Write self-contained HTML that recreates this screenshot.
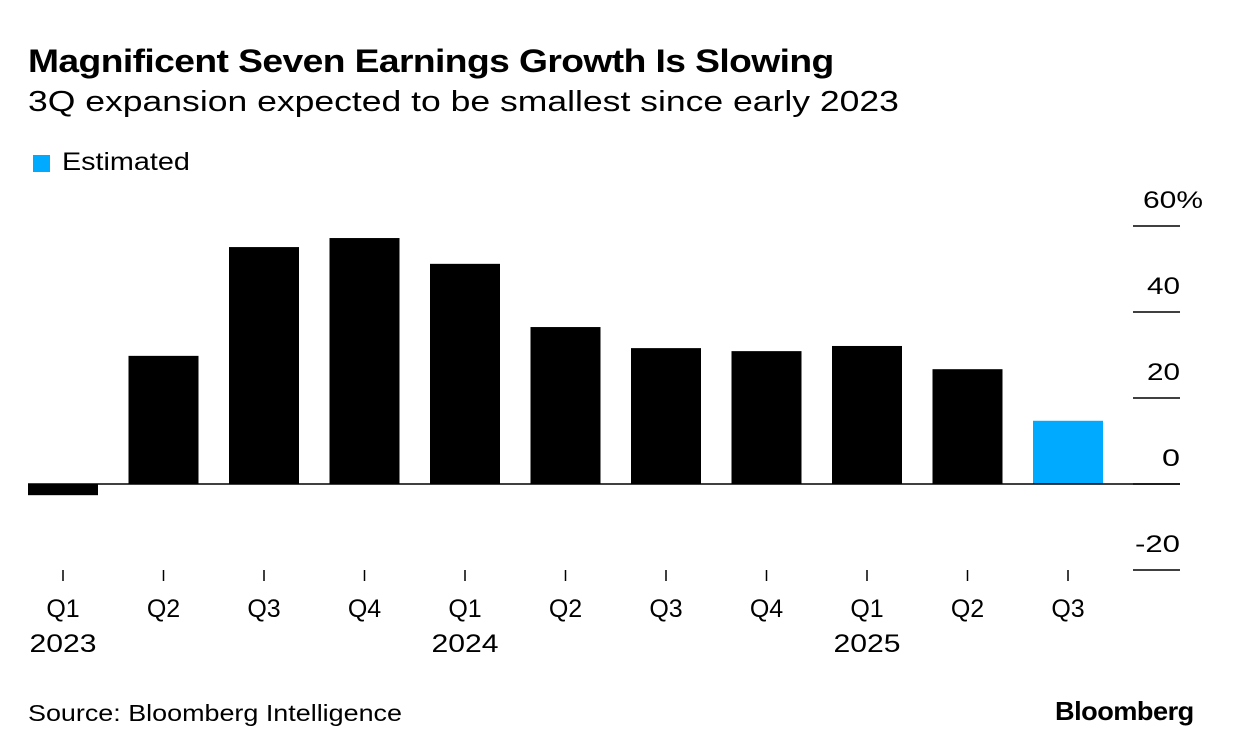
<!DOCTYPE html>
<html><head><meta charset="utf-8"><style>
body{margin:0;background:#fff;font-family:"Liberation Sans",sans-serif;color:#000}
#wrap{position:relative;width:1233px;height:754px;overflow:hidden}
.t{position:absolute;white-space:nowrap;transform-origin:0 0}
</style></head><body>
<div id="wrap">
<div class="t" style="left:28px;top:43px;font-size:32px;font-weight:bold;letter-spacing:-0.5px;transform:scaleX(1.163)">Magnificent Seven Earnings Growth Is Slowing</div>
<div class="t" style="left:28px;top:86px;font-size:29px;transform:scaleX(1.225)">3Q expansion expected to be smallest since early 2023</div>
<div style="position:absolute;left:33px;top:155px;width:17px;height:17px;background:#00aaff"></div>
<div class="t" style="left:62px;top:148px;font-size:25px;transform:scaleX(1.15)">Estimated</div>
<svg id="chart" width="1233" height="754" style="position:absolute;left:0;top:0"></svg>
<div class="t" style="left:28px;top:700px;font-size:23px;transform:scaleX(1.17)">Source: Bloomberg Intelligence</div>
<div class="t" style="left:1055px;top:696px;font-size:26px;font-weight:bold;letter-spacing:-0.5px;transform:scaleX(1.045)">Bloomberg</div>
</div>
<script>
const categories=["Q1","Q2","Q3","Q4","Q1","Q2","Q3","Q4","Q1","Q2","Q3"];
const years=["2023","","","","2024","","","","2025","",""];
const values=[-2.6,29.8,55.1,57.2,51.2,36.5,31.6,30.9,32.1,26.7,14.7];
const estimated=[false,false,false,false,false,false,false,false,false,false,true];
const yTicks=[60,40,20,0,-20];
const yTickLabels=["60%","40","20","0","-20"];
const NS="http://www.w3.org/2000/svg";
const svg=document.getElementById('chart');
const y=v=>484-v*4.3;
const x=i=>63+i*100.5;
function mk(tag,attrs){const e=document.createElementNS(NS,tag);for(const k in attrs)e.setAttribute(k,attrs[k]);svg.appendChild(e);return e;}
yTicks.forEach((v,i)=>{
  const l=mk('line',{x1:1133,x2:1180,y1:y(v),y2:y(v),stroke:'#000','stroke-width':1.5});
  
  
  const lbl=yTickLabels[i];
  const w=lbl.length===3?(lbl.indexOf('%')>=0?60:45):(lbl.length===2?33:18);
  const sx=lbl.indexOf('%')>=0?1143:1180-w;
  const t=mk('text',{x:sx,y:y(v)-18,'font-size':24,textLength:w,lengthAdjust:'spacingAndGlyphs','font-family':'Liberation Sans, sans-serif'});
  t.textContent=lbl;
  
  
});
values.forEach((v,i)=>{
  const top=Math.min(y(v),y(0)),h=Math.abs(y(v)-y(0));
  const r=mk('rect',{x:x(i)-35,y:top,width:70,height:h,fill:estimated[i]?'#00aaff':'#000'});
  
  
  const tk=mk('line',{x1:x(i),x2:x(i),y1:570,y2:581,stroke:'#000','stroke-width':1.5});
  
  
  const t=mk('text',{x:x(i),y:617,'font-size':25,'text-anchor':'middle','font-family':'Liberation Sans, sans-serif'});
  t.textContent=categories[i];
  
  
  if(years[i]){
    const yt=mk('text',{x:x(i)-33.5,y:652,'font-size':25,textLength:67,lengthAdjust:'spacingAndGlyphs','font-family':'Liberation Sans, sans-serif'});
    yt.textContent=years[i];
    
    
  }
});
const z=mk('line',{x1:28,x2:1180,y1:y(0),y2:y(0),stroke:'#000','stroke-width':1.5});


</script>
</body></html>
